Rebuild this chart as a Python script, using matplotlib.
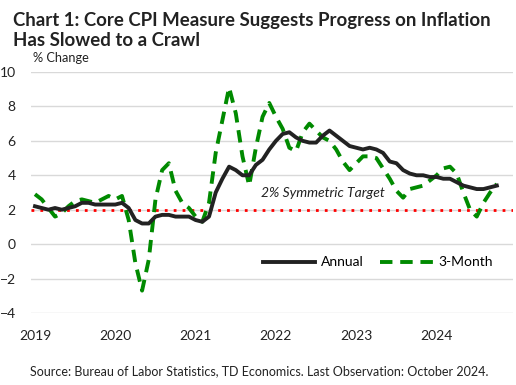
import numpy as np
import matplotlib
matplotlib.use("Agg")
import matplotlib.pyplot as plt

# monthly data, Jan 2019 - Oct 2024
start_year = 2019
annual = [2.2, 2.1, 2.0, 2.1, 2.0, 2.1, 2.2, 2.4, 2.4, 2.3, 2.3, 2.3,
          2.3, 2.4, 2.1, 1.4, 1.2, 1.2, 1.6, 1.7, 1.7, 1.6, 1.6, 1.6,
          1.4, 1.3, 1.6, 3.0, 3.8, 4.5, 4.3, 4.0, 4.0, 4.6, 4.9, 5.5,
          6.0, 6.4, 6.5, 6.2, 6.0, 5.9, 5.9, 6.3, 6.6, 6.3, 6.0, 5.7,
          5.6, 5.5, 5.6, 5.5, 5.3, 4.8, 4.7, 4.3, 4.1, 4.0, 4.0, 3.9,
          3.9, 3.8, 3.8, 3.6, 3.4, 3.3, 3.2, 3.2, 3.3, 3.4]
three_month = [2.9, 2.6, 2.1, 1.6, 1.8, 2.2, 2.5, 2.6, 2.5, 2.4, 2.6, 2.8,
               2.6, 2.8, 1.4, -1.1, -2.7, -0.9, 2.6, 4.3, 4.7, 3.1, 2.4, 2.1,
               1.6, 1.3, 2.4, 5.3, 7.2, 9.1, 7.6, 5.1, 3.4, 5.6, 7.4, 8.2,
               7.4, 6.7, 5.6, 5.4, 6.5, 7.0, 6.6, 6.2, 6.0, 5.5, 4.8, 4.3,
               4.7, 5.1, 5.1, 5.0, 4.4, 3.8, 3.1, 2.7, 3.2, 3.3, 3.4, 3.7,
               4.0, 4.4, 4.5, 4.1, 3.0, 2.0, 1.6, 2.4, 3.0, 3.5]
target = 2.0
year_ticks = [2019, 2020, 2021, 2022, 2023, 2024]
y_ticks = [-4, -2, 0, 2, 4, 6, 8, 10]

x = start_year + np.arange(len(annual)) / 12.0

font = "Lato"
plt.rcParams['font.family'] = [font, 'DejaVu Sans']

fig = plt.figure(figsize=(5.16, 3.85), dpi=100)
ax = fig.add_axes([0.060, 0.187, 0.934, 0.626])

for yv in y_ticks:
    ax.axhline(yv, color='#d9d9d9', lw=1, zorder=0)
ax.axhline(target, color='#ff0000', lw=2, ls=(0, (1, 2.2)), zorder=1)

ax.plot(x, annual, color='#222222', lw=2.8, label='Annual', zorder=3,
        solid_joinstyle='round')
ax.plot(x, three_month, color='#008a00', lw=2.8, ls=(0, (3.2, 2)),
        label='3-Month', zorder=2)

ax.text(2021.81, 2.97, "2% Symmetric Target", style='italic', fontsize=10,
        va='center', ha='left', color='#222222')

ax.set_xlim(2018.95, 2024.95)
ax.set_ylim(-4, 10)
ax.set_xticks(year_ticks)
ax.set_xticklabels([str(v) for v in year_ticks])
ax.set_yticks(y_ticks)
ax.tick_params(length=0, labelsize=10, colors='#222222')
ax.tick_params(axis='x', pad=12)
ax.tick_params(axis='y', pad=11)
for s in ax.spines.values():
    s.set_visible(False)

leg = ax.legend(loc='center', bbox_to_anchor=(0.72, 0.21), ncol=2,
                frameon=False, fontsize=10, handlelength=3.8,
                columnspacing=1.2, handletextpad=0.4)

fig.text(0.025, 0.968, "Chart 1: Core CPI Measure Suggests Progress on Inflation\nHas Slowed to a Crawl",
         fontsize=13.4, fontweight='bold', va='top', ha='left', color='#222222',
         linespacing=1.2)
fig.text(0.064, 0.849, "% Change", fontsize=9.2, va='center', ha='left', color='#222222')
fig.text(0.502, 0.036, "Source: Bureau of Labor Statistics, TD Economics. Last Observation: October 2024.",
         fontsize=9, va='center', ha='center', color='#222222')

fig.savefig("out.png", dpi=100)
